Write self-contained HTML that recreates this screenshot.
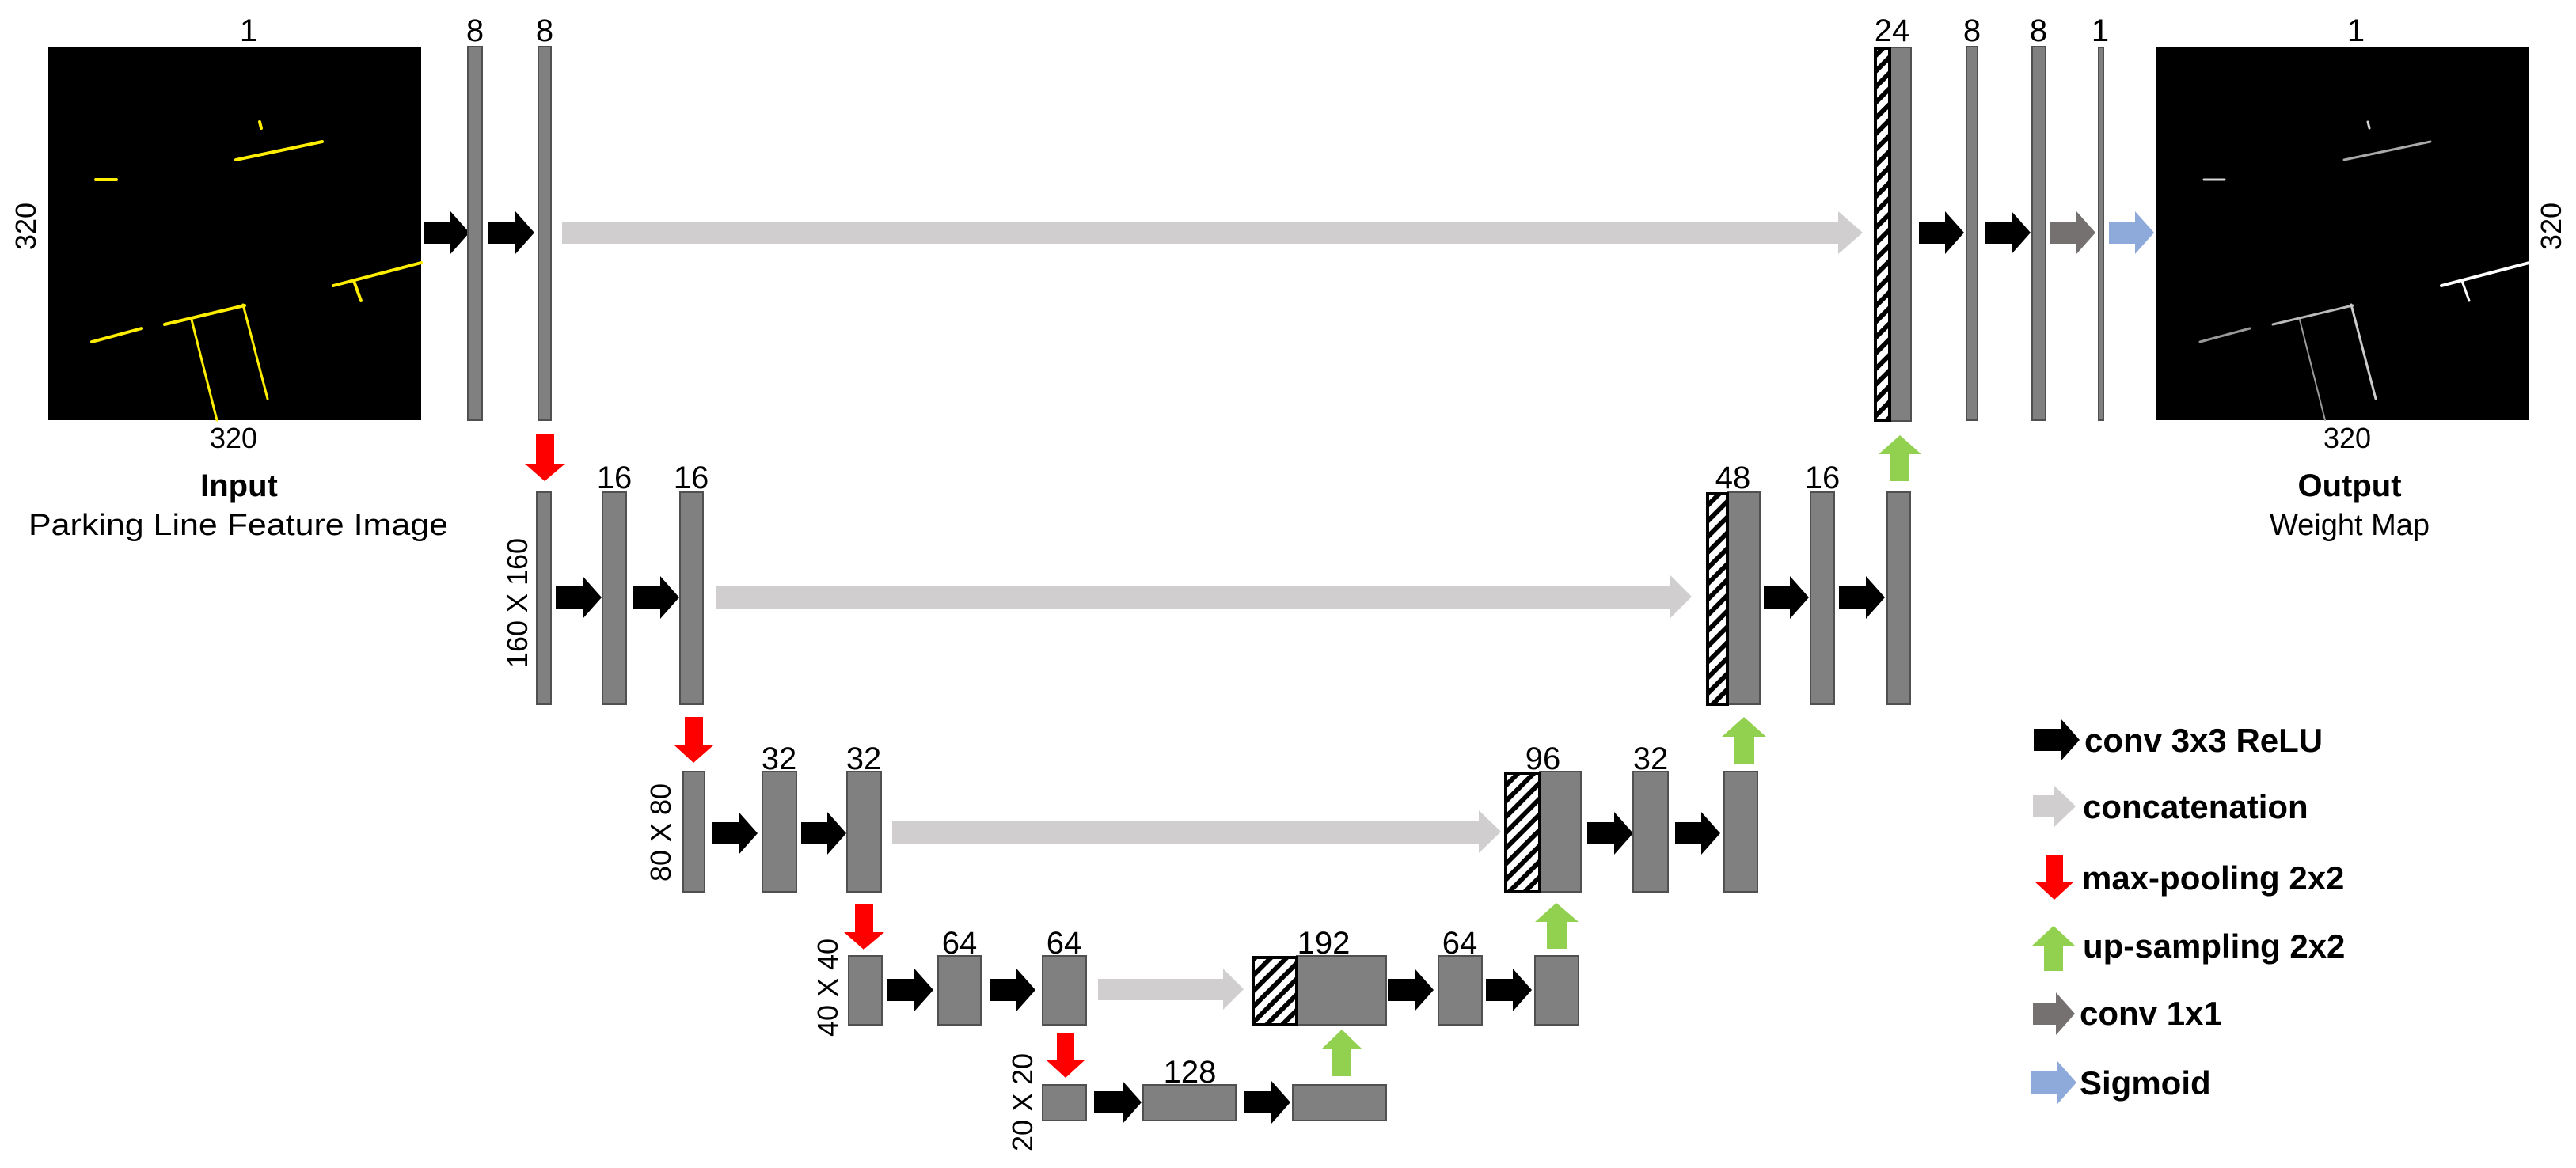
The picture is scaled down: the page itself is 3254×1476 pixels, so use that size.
<!DOCTYPE html>
<html><head><meta charset="utf-8"><style>html,body{margin:0;padding:0;background:#fff}svg{display:block}</style></head>
<body>
<svg width="3254" height="1476" viewBox="0 0 3254 1476" xmlns="http://www.w3.org/2000/svg" font-family="Liberation Sans, Arial, sans-serif">
<defs>
<pattern id="h" patternUnits="userSpaceOnUse" width="14" height="14" patternTransform="rotate(45)">
<rect width="14" height="14" fill="#fff"/><rect width="6" height="14" fill="#000"/>
</pattern>
</defs>
<!-- input image -->
<rect x="61" y="59" width="471" height="472" fill="#000"/>
<g stroke="#ffee00" stroke-width="4" stroke-linecap="round">
<line x1="328" y1="154" x2="330" y2="162"/>
<line x1="298" y1="202" x2="407" y2="179"/>
<line x1="121" y1="227" x2="147" y2="227"/>
<line x1="421" y1="361" x2="532" y2="332"/>
<line x1="447" y1="355" x2="456" y2="380"/>
<line x1="116" y1="432" x2="179" y2="415"/>
<line x1="208" y1="410" x2="309" y2="386"/>
<line x1="242" y1="404" x2="274" y2="531" stroke-width="3"/>
<line x1="307" y1="385" x2="338" y2="504" stroke-width="3"/>
</g>
<!-- output image -->
<rect x="2724" y="59" width="471" height="472" fill="#000"/>
<g stroke="#d8d8d8" stroke-width="3" stroke-linecap="round">
<line x1="2991" y1="154" x2="2993" y2="162"/>
<line x1="2961" y1="202" x2="3070" y2="179" stroke="#aaa"/>
<line x1="2784" y1="227" x2="2810" y2="227"/>
<line x1="3084" y1="361" x2="3195" y2="332" stroke="#fff" stroke-width="4"/>
<line x1="3110" y1="355" x2="3119" y2="380" stroke="#fff"/>
<line x1="2779" y1="432" x2="2842" y2="415" stroke="#999"/>
<line x1="2871" y1="410" x2="2972" y2="386" stroke="#bbb"/>
<line x1="2905" y1="404" x2="2937" y2="531" stroke="#999" stroke-width="2"/>
<line x1="2970" y1="385" x2="3001" y2="504" stroke="#ccc"/>
</g>

<!-- concat arrows -->
<g fill="#d0cece">
<polygon points="710,280 2322,280 2322,267 2353,294 2322,321 2322,308 710,308"/>
<polygon points="904,740 2109,740 2109,726 2137,754 2109,782 2109,769 904,769"/>
<polygon points="1127,1037 1868,1037 1868,1024 1896,1051 1868,1078 1868,1066 1127,1066"/>
<polygon points="1387,1237 1545,1237 1545,1224 1571,1250 1545,1276 1545,1264 1387,1264"/>
<polygon points="2568,1005 2594,1005 2594,992 2622,1019 2594,1046 2594,1033 2568,1033"/>
</g>

<!-- black conv arrows -->
<g fill="#000">
<polygon points="535,280 569,280 569,267 593,294 569,321 569,308 535,308"/>
<polygon points="617,280 651,280 651,267 675,294 651,321 651,308 617,308"/>
<polygon points="2424,280 2457,280 2457,267 2481,294 2457,321 2457,308 2424,308"/>
<polygon points="2507,280 2541,280 2541,267 2565,294 2541,321 2541,308 2507,308"/>
<polygon points="702,741 736,741 736,728 760,755 736,782 736,769 702,769"/>
<polygon points="799,741 834,741 834,728 858,755 834,782 834,769 799,769"/>
<polygon points="2228,741 2261,741 2261,728 2285,755 2261,782 2261,769 2228,769"/>
<polygon points="2323,741 2357,741 2357,728 2381,755 2357,782 2357,769 2323,769"/>
<polygon points="899,1039 933,1039 933,1026 957,1053 933,1080 933,1067 899,1067"/>
<polygon points="1012,1039 1045,1039 1045,1026 1069,1053 1045,1080 1045,1067 1012,1067"/>
<polygon points="2005,1039 2039,1039 2039,1026 2063,1053 2039,1080 2039,1067 2005,1067"/>
<polygon points="2116,1039 2149,1039 2149,1026 2173,1053 2149,1080 2149,1067 2116,1067"/>
<polygon points="1121,1237 1155,1237 1155,1224 1179,1251 1155,1278 1155,1265 1121,1265"/>
<polygon points="1250,1237 1284,1237 1284,1224 1308,1251 1284,1278 1284,1265 1250,1265"/>
<polygon points="1753,1237 1787,1237 1787,1224 1811,1251 1787,1278 1787,1265 1753,1265"/>
<polygon points="1877,1237 1911,1237 1911,1224 1935,1251 1911,1278 1911,1265 1877,1265"/>
<polygon points="1382,1379 1418,1379 1418,1366 1442,1393 1418,1420 1418,1407 1382,1407"/>
<polygon points="1571,1379 1606,1379 1606,1366 1630,1393 1606,1420 1606,1407 1571,1407"/>
<polygon points="2569,921 2603,921 2603,908 2627,935 2603,962 2603,949 2569,949"/>
</g>
<!-- gray conv1x1 and blue sigmoid -->
<polygon fill="#767171" points="2590,280 2623,280 2623,267 2647,294 2623,321 2623,308 2590,308"/>
<polygon fill="#8eaadb" points="2664,280 2697,280 2697,267 2721,294 2697,321 2697,308 2664,308"/>
<polygon fill="#767171" points="2568,1267 2597,1267 2597,1254 2621,1281 2597,1308 2597,1295 2568,1295"/>
<polygon fill="#8eaadb" points="2566,1354 2599,1354 2599,1341 2623,1368 2599,1395 2599,1382 2566,1382"/>

<!-- red down arrows -->
<g fill="#ff0000">
<polygon points="677,548 700,548 700,586 714,586 688,608 663,586 677,586"/>
<polygon points="865,906 888,906 888,942 901,942 876,964 852,942 865,942"/>
<polygon points="1080,1142 1103,1142 1103,1178 1117,1178 1091,1200 1066,1178 1080,1178"/>
<polygon points="1335,1305 1357,1305 1357,1340 1370,1340 1346,1362 1322,1340 1335,1340"/>
<polygon points="2584,1080 2606,1080 2606,1114 2620,1114 2595,1137 2570,1114 2584,1114"/>
</g>
<!-- green up arrows -->
<g fill="#92d050">
<polygon points="2388,608 2412,608 2412,574 2427,574 2400,550 2373,574 2388,574"/>
<polygon points="2190,965 2216,965 2216,931 2231,931 2203,906 2175,931 2190,931"/>
<polygon points="1954,1199 1979,1199 1979,1165 1994,1165 1966,1141 1939,1165 1954,1165"/>
<polygon points="1683,1360 1707,1360 1707,1326 1721,1326 1695,1301 1669,1326 1683,1326"/>
<polygon points="2582,1227 2606,1227 2606,1195 2621,1195 2594,1170 2567,1195 2582,1195"/>
</g>

<!-- bars -->
<g fill="#808080" stroke="#505050" stroke-width="2">
<rect x="591" y="59" width="18" height="472"/>
<rect x="680" y="59" width="16" height="472"/>
<rect x="2387" y="60" width="27" height="472"/>
<rect x="2484" y="59" width="14" height="472"/>
<rect x="2567" y="59" width="17" height="472"/>
<rect x="2651" y="60" width="6" height="471"/>
<rect x="678" y="622" width="18" height="268"/>
<rect x="761" y="622" width="30" height="268"/>
<rect x="859" y="622" width="29" height="268"/>
<rect x="2182" y="622" width="41" height="268"/>
<rect x="2287" y="622" width="30" height="268"/>
<rect x="2384" y="622" width="29" height="268"/>
<rect x="863" y="975" width="27" height="152"/>
<rect x="963" y="975" width="43" height="152"/>
<rect x="1070" y="975" width="43" height="152"/>
<rect x="1945" y="975" width="52" height="152"/>
<rect x="2063" y="975" width="44" height="152"/>
<rect x="2178" y="975" width="42" height="152"/>
<rect x="1072" y="1208" width="42" height="87"/>
<rect x="1185" y="1208" width="54" height="87"/>
<rect x="1317" y="1208" width="55" height="87"/>
<rect x="1638" y="1208" width="113" height="87"/>
<rect x="1817" y="1208" width="55" height="87"/>
<rect x="1939" y="1208" width="55" height="87"/>
<rect x="1317" y="1371" width="55" height="45"/>
<rect x="1444" y="1371" width="117" height="45"/>
<rect x="1633" y="1371" width="118" height="45"/>
</g>
<!-- hatched -->
<g fill="url(#h)" stroke="#000" stroke-width="4">
<rect x="2369" y="61" width="18" height="470"/>
<rect x="2157" y="624" width="25" height="266"/>
<rect x="1902" y="977" width="43" height="150"/>
<rect x="1583" y="1210" width="55" height="85"/>
</g>

<!-- number labels -->
<g font-size="40" text-anchor="middle" fill="#000">
<text x="314" y="52">1</text>
<text x="600" y="52">8</text>
<text x="688" y="52">8</text>
<text x="2390" y="52">24</text>
<text x="2491" y="52">8</text>
<text x="2575" y="52">8</text>
<text x="2653" y="52">1</text>
<text x="2976" y="52">1</text>
<text x="776" y="617">16</text>
<text x="873" y="617">16</text>
<text x="2189" y="617">48</text>
<text x="2302" y="617">16</text>
<text x="984" y="972">32</text>
<text x="1091" y="972">32</text>
<text x="1949" y="972">96</text>
<text x="2085" y="972">32</text>
<text x="1212" y="1205">64</text>
<text x="1344" y="1205">64</text>
<text x="1672" y="1205">192</text>
<text x="1844" y="1205">64</text>
<text x="1503" y="1368">128</text>
<text x="295" y="566" font-size="36">320</text>
<text x="2965" y="566" font-size="36">320</text>
<text x="302" y="627" font-weight="bold">Input</text>
<text x="301" y="676" font-size="38" textLength="530" lengthAdjust="spacingAndGlyphs">Parking Line Feature Image</text>
<text x="2968" y="627" font-weight="bold">Output</text>
<text x="2968" y="676" font-size="38">Weight Map</text>
</g>
<g font-size="36" text-anchor="middle" fill="#000">
<text transform="translate(45,286) rotate(-90)">320</text>
<text transform="translate(3235,286) rotate(-90)">320</text>
<text transform="translate(666,762) rotate(-90)">160 X 160</text>
<text transform="translate(847,1052) rotate(-90)">80 X 80</text>
<text transform="translate(1058,1248) rotate(-90)">40 X 40</text>
<text transform="translate(1304,1393) rotate(-90)">20 X 20</text>
</g>

<!-- legend -->
<g font-size="42" font-weight="bold" fill="#000">
<text x="2633" y="950">conv 3x3 ReLU</text>
<text x="2631" y="1034">concatenation</text>
<text x="2630" y="1124">max-pooling 2x2</text>
<text x="2631" y="1210">up-sampling 2x2</text>
<text x="2627" y="1295">conv 1x1</text>
<text x="2627" y="1383">Sigmoid</text>
</g>
</svg>
</body></html>
